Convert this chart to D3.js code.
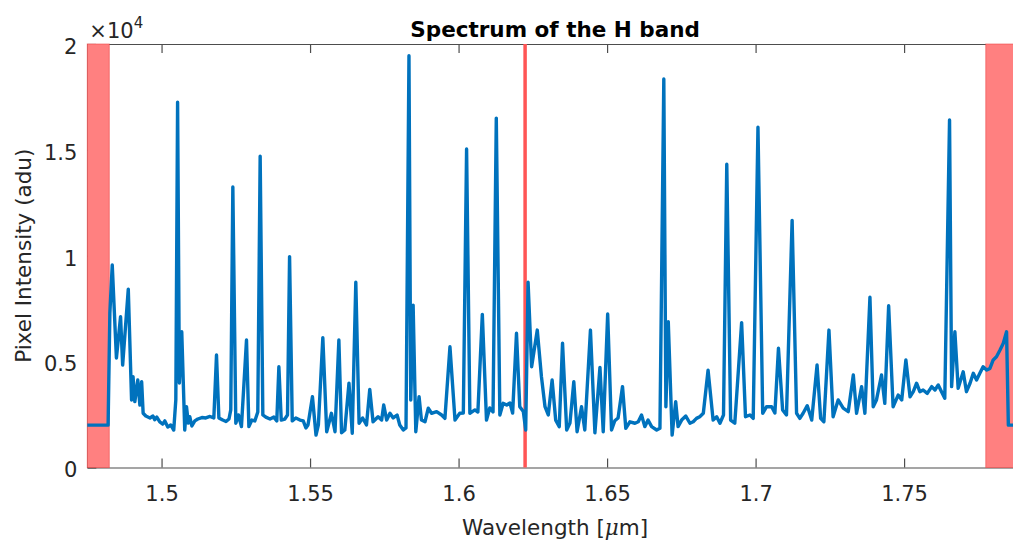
<!DOCTYPE html>
<html>
<head>
<meta charset="utf-8">
<script src="https://cdn.jsdelivr.net/npm/d3@7"></script>
<style>
  html, body { margin: 0; padding: 0; background: #fff; }
  svg { display: block; }
  text { font-family: "DejaVu Sans", sans-serif; }
</style>
</head>
<body>
<svg id="chart" width="1013" height="542"></svg>
<script>
// ---- data ----
const wavelength = [
  1.475, 1.4820, 1.4826, 1.4834, 1.4848, 1.4862, 1.4869, 1.4888, 1.4899, 1.4904,
  1.4910, 1.4920, 1.4927, 1.4933, 1.4938, 1.4947, 1.4961, 1.4971, 1.4977, 1.4984,
  1.4994, 1.5004, 1.5011, 1.5021, 1.5031, 1.5041, 1.5048, 1.5054, 1.5060, 1.5068,
  1.5078, 1.5084, 1.5090, 1.5095, 1.5102, 1.5112, 1.5122, 1.5136, 1.5149, 1.5163,
  1.5176, 1.5185, 1.5193, 1.5206, 1.5217, 1.5227, 1.5233, 1.5240, 1.5250, 1.5259,
  1.5269, 1.5286, 1.5294, 1.5304, 1.5314, 1.5324, 1.5332, 1.5341, 1.5351, 1.5365,
  1.5378, 1.5388, 1.5395, 1.5403, 1.5415, 1.5424, 1.5431, 1.5440, 1.5452, 1.5466,
  1.5477, 1.5486, 1.5493, 1.5508, 1.5520, 1.5528, 1.5543, 1.5556, 1.5572, 1.5584,
  1.5597, 1.5606, 1.5617, 1.5631, 1.5642, 1.5654, 1.5665, 1.5677, 1.5690, 1.5701,
  1.5712, 1.5729, 1.5741, 1.5748, 1.5758, 1.5769, 1.5780, 1.5793, 1.5802, 1.5814,
  1.5823, 1.5833, 1.5839, 1.5847, 1.5856, 1.5867, 1.5875, 1.5887, 1.5898, 1.5909,
  1.5926, 1.5943, 1.5954, 1.5971, 1.5988, 1.6004, 1.6016, 1.6027, 1.6038, 1.6055,
  1.6065, 1.6080, 1.6094, 1.6105, 1.6116, 1.6127, 1.6139, 1.6150, 1.6162, 1.6173,
  1.6182, 1.6195, 1.6206, 1.6218, 1.6226, 1.6234, 1.6246, 1.6265, 1.6279, 1.6291,
  1.6302, 1.6315, 1.6327, 1.6339, 1.6350, 1.6364, 1.6375, 1.6388, 1.6399, 1.6414,
  1.6425, 1.6444, 1.6459, 1.6476, 1.6487, 1.6502, 1.6515, 1.6526, 1.6537, 1.6552,
  1.6563, 1.6577, 1.6594, 1.6605, 1.6616, 1.6627, 1.6638, 1.6650, 1.6667, 1.6678,
  1.6691, 1.6698, 1.6706, 1.6719, 1.6731, 1.6739, 1.6751, 1.6765, 1.6779, 1.6790,
  1.6801, 1.6812, 1.6824, 1.6840, 1.6857, 1.6869, 1.6880, 1.6892, 1.6903, 1.6916,
  1.6930, 1.6953, 1.6966, 1.6981, 1.6992, 1.7008, 1.7024, 1.7037, 1.7054, 1.7065,
  1.7077, 1.7091, 1.7104, 1.7123, 1.7138, 1.7149, 1.7160, 1.7174, 1.7189, 1.7207,
  1.7219, 1.7230, 1.7247, 1.7261, 1.7278, 1.7295, 1.7312, 1.7329, 1.7340, 1.7357,
  1.7368, 1.7385, 1.7396, 1.7407, 1.7424, 1.7435, 1.7448, 1.7463, 1.7480, 1.7492,
  1.7506, 1.7520, 1.7531, 1.7542, 1.7553, 1.7564, 1.7578, 1.7593, 1.7604, 1.7615,
  1.7626, 1.7637, 1.7653, 1.7660, 1.7671, 1.7682, 1.7699, 1.7710, 1.7722, 1.7733,
  1.7744, 1.7755, 1.7766, 1.7778, 1.7789, 1.7800, 1.7811, 1.7823, 1.7834, 1.7845,
  1.7851, 1.7900
];
const intensity = [
  2000, 2000, 7300, 9560, 5170, 7120, 4840, 8420, 3190, 4290,
  3110, 4130, 2950, 4050, 2560, 2430, 2340, 2430, 2260, 2380,
  2150, 2050, 2200, 1910, 2010, 1770, 3190, 17250, 3990, 6410,
  1770, 2870, 2100, 2400, 1960, 2200, 2290, 2360, 2340, 2410,
  2340, 5310, 2340, 2240, 2170, 2290, 2720, 13250, 2090, 2480,
  1930, 6020, 1930, 2240, 2200, 2620, 14700, 2480, 2380, 2290,
  2380, 2200, 4760, 2240, 2290, 2480, 9960, 2200, 2340, 2240,
  2200, 1870, 2010, 3340, 1530, 2010, 6130, 1690, 2560, 1690,
  6020, 1640, 1770, 3980, 1620, 8750, 2090, 2340, 2010, 3690,
  2160, 2400, 2240, 2950, 2240, 2560, 2340, 2480, 2010, 1770,
  1870, 19450, 3190, 7670, 1690, 3340, 2240, 2160, 2800, 2560,
  2640, 2480, 2320, 5700, 2240, 2560, 2570, 15040, 2560, 2720,
  2620, 7230, 2240, 2810, 2620, 16500, 2480, 3030, 2950, 3050,
  2570, 6340, 2870, 2640, 1770, 8750, 4760, 6490, 4290, 2870,
  2480, 4130, 2240, 1930, 5870, 1770, 2100, 4050, 1690, 2870,
  1770, 6490, 1640, 4730, 1690, 7250, 1770, 2210, 2340, 3820,
  1850, 2160, 2090, 2160, 2480, 1930, 2240, 1930, 1770, 1850,
  18350, 2870, 6890, 1530, 3110, 1930, 2240, 2430, 2090, 2160,
  2320, 2400, 2560, 4600, 2240, 2400, 2090, 2480, 14320, 2240,
  2090, 6840, 2400, 2480, 2320, 16070, 2560, 2870, 2870, 2570,
  5630, 2720, 2480, 11670, 2560, 2320, 2560, 2920, 2240, 4840,
  2320, 2160, 6490, 2400, 3190, 2800, 2640, 4370, 2560, 3820,
  2560, 8040, 2870, 3190, 4370, 3030, 7640, 2870, 3420, 3190,
  5080, 3340, 3580, 3980, 3580, 3660, 3500, 3820, 3660, 3900,
  3580, 3270, 16410, 3820, 6410, 3740, 4520, 3580, 3980, 4450,
  4130, 4450, 4760, 4600, 4680, 5080, 5230, 5550, 5870, 6410,
  2000, 2000
];
const maskBandStart = [1.475, 1.7775];
const maskBandEnd   = [1.4824, 1.790];
const markerWavelength = [1.6224];
const xTicks = [1.5, 1.55, 1.6, 1.65, 1.7, 1.75];
const xTickLabels = ["1.5", "1.55", "1.6", "1.65", "1.7", "1.75"];
const yTicks = [0, 5000, 10000, 15000, 20000];
const yTickLabels = ["0", "0.5", "1", "1.5", "2"];
const xDomain = [1.475, 1.79];
const yDomain = [0, 20000];

// ---- layout ----
const svg = d3.select("#chart");
const plotL = 87.3, plotR = 1022.9, plotT = 44, plotB = 467.5;
const x = d3.scaleLinear().domain(xDomain).range([plotL, plotR]);
const y = d3.scaleLinear().domain(yDomain).range([plotB, plotT]);
const axisColor = "#4d4d4d";
const textColor = "#262626";
const tickLen = 9;

// axes (drawn under the data, MATLAB default layer)
const gAxes = svg.append("g");
gAxes.append("g").attr("transform", `translate(0,${plotB})`)
  .call(d3.axisBottom(x).tickValues(xTicks).tickFormat((d, i) => xTickLabels[i])
    .tickSizeInner(-tickLen).tickSizeOuter(0).tickPadding(18.5));
gAxes.append("g").attr("transform", `translate(0,${plotT})`)
  .call(d3.axisTop(x).tickValues(xTicks).tickFormat("")
    .tickSizeInner(-tickLen).tickSizeOuter(0));
const yl = gAxes.append("g").attr("transform", `translate(${plotL},0)`)
  .call(d3.axisLeft(y).tickValues(yTicks).tickFormat((d, i) => yTickLabels[i])
    .tickSizeInner(-tickLen).tickSizeOuter(0).tickPadding(10));
gAxes.append("g").attr("transform", `translate(${plotR},0)`)
  .call(d3.axisRight(y).tickValues(yTicks).tickFormat("")
    .tickSizeInner(-tickLen).tickSizeOuter(0));

gAxes.selectAll(".domain").attr("stroke", axisColor).attr("stroke-width", 1.2);
gAxes.selectAll(".tick line").attr("stroke", axisColor).attr("stroke-width", 1.2);
gAxes.selectAll(".tick text").attr("fill", textColor)
  .style("font-family", "'DejaVu Sans', sans-serif").style("font-size", "21px");
yl.selectAll(".tick text").attr("dy", "0.44em");

// masked bands
svg.append("g").selectAll("rect")
  .data(maskBandStart.map((s, i) => [s, maskBandEnd[i]]))
  .join("rect")
  .attr("x", d => x(d[0]))
  .attr("y", y(yDomain[1]))
  .attr("width", d => x(d[1]) - x(d[0]))
  .attr("height", y(yDomain[0]) - y(yDomain[1]))
  .attr("fill", "rgb(255,128,128)")
  .attr("stroke", "rgba(235,60,60,0.55)")
  .attr("stroke-width", 1);

// marker line
svg.append("g").selectAll("line")
  .data(markerWavelength)
  .join("line")
  .attr("x1", d => x(d)).attr("x2", d => x(d))
  .attr("y1", y(yDomain[0])).attr("y2", y(yDomain[1]))
  .attr("stroke", "rgb(255,85,85)")
  .attr("stroke-width", 3.5);

// spectrum
const pts = wavelength.map((w, i) => [w, intensity[i]]);
svg.append("path")
  .datum(pts)
  .attr("fill", "none")
  .attr("stroke", "#0072BD")
  .attr("stroke-width", 3.4)
  .attr("stroke-linejoin", "round")
  .attr("d", d3.line().x(d => x(d[0])).y(d => y(d[1])));

// exponent label
const ex = svg.append("text").attr("x", plotL + 2).attr("y", 38.3)
  .attr("fill", textColor).style("font-size", "21px");
ex.append("tspan").text("\u00D710");
ex.append("tspan").attr("dy", -10.5).style("font-size", "15px").text("4");

// title
svg.append("text")
  .attr("x", (plotL + plotR) / 2).attr("y", 36.7)
  .attr("text-anchor", "middle")
  .attr("fill", "#000")
  .style("font-size", "21.5px").style("font-weight", "bold")
  .text("Spectrum of the H band");

// x label
const xlab = svg.append("text")
  .attr("x", (plotL + plotR) / 2).attr("y", 535)
  .attr("text-anchor", "middle").attr("fill", textColor)
  .style("font-size", "21.5px");
xlab.append("tspan").text("Wavelength [");
xlab.append("tspan").style("font-style", "italic").style("font-family", "'DejaVu Serif', serif").text("\u03BC");
xlab.append("tspan").text("m]");

// y label
svg.append("text")
  .attr("transform", `translate(30.5,${(plotT + plotB) / 2}) rotate(-90)`)
  .attr("text-anchor", "middle").attr("fill", textColor)
  .style("font-size", "21.5px")
  .text("Pixel Intensity (adu)");
</script>
</body>
</html>
